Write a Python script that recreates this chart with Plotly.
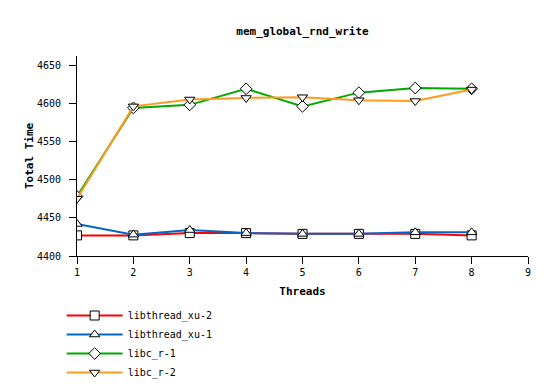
import plotly.graph_objects as go

threads = [1, 2, 3, 4, 5, 6, 7, 8]
libthread_xu_2 = [4427, 4427, 4430, 4430, 4429, 4429, 4429, 4427]
libthread_xu_1 = [4442, 4428, 4434, 4430, 4429, 4429, 4431, 4431]
libc_r_1 = [4478, 4594, 4598, 4619, 4596, 4614, 4620, 4619]
libc_r_2 = [4475, 4596, 4605, 4607, 4608, 4604, 4603, 4618]

series = [
    ("libthread_xu-2", libthread_xu_2, "#ff0000", "square"),
    ("libthread_xu-1", libthread_xu_1, "#0066cc", "triangle-up"),
    ("libc_r-1", libc_r_1, "#00aa00", "diamond"),
    ("libc_r-2", libc_r_2, "#ff9922", "triangle-down"),
]

FONT = "DejaVu Sans Mono"
# page has an 8px body margin, so the figure is sized/placed to compensate
W, H = 546, 383
fig = go.Figure()
for name, vals, color, sym in series:
    fig.add_trace(go.Scatter(
        x=threads, y=vals, name=name, mode="lines+markers",
        line=dict(color=color, width=2),
        marker=dict(symbol=sym, size=9, color="white",
                    line=dict(color="black", width=1)),
    ))

fig.update_layout(
    width=W, height=H,
    margin=dict(l=69, r=26, t=48, b=135, autoexpand=False),
    paper_bgcolor="white", plot_bgcolor="white",
    font=dict(family=FONT, size=10, color="black"),
    title=dict(text="<b>mem_global_rnd_write</b>", x=0.5, xanchor="center",
               xref="paper",
               y=1 - 23 / H, yanchor="middle",
               font=dict(family=FONT, size=11, color="black")),
    showlegend=True,
    legend=dict(x=-0.034, y=-0.225, xanchor="left", yanchor="top",
                font=dict(family=FONT, size=10), itemwidth=56,
                tracegroupgap=0, bgcolor="rgba(0,0,0,0)"),
    xaxis=dict(range=[1, 9], dtick=1, tick0=1, showgrid=False, zeroline=False,
               automargin=False,
               showline=True, linecolor="black", linewidth=1,
               ticks="outside", ticklen=7, tickcolor="black",
               title=dict(text="<b>Threads</b>", standoff=10,
                          font=dict(family=FONT, size=11))),
    yaxis=dict(range=[4400, 4662], dtick=50, tick0=4400, showgrid=False,
               automargin=False, ticklabelstandoff=6,
               zeroline=False, showline=True, linecolor="black", linewidth=1,
               ticks="outside", ticklen=7, tickcolor="black",
               title=dict(text="<b>Total Time</b>", standoff=1,
                          font=dict(family=FONT, size=11))),
)

fig.write_html("out.html")
